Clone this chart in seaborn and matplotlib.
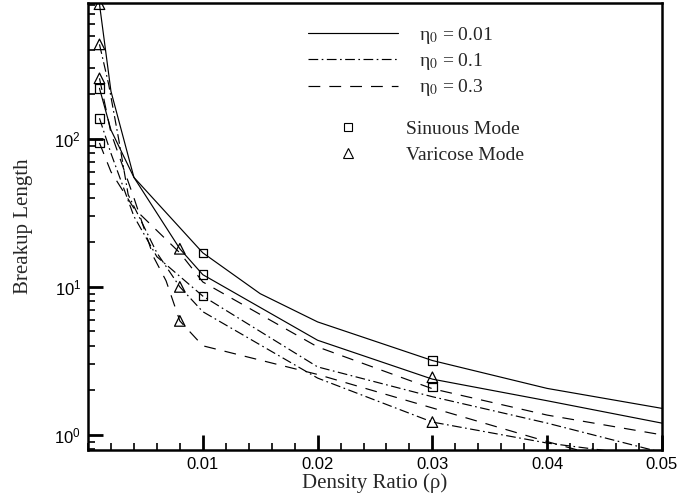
import matplotlib
matplotlib.use("Agg")
import matplotlib.pyplot as plt
import seaborn as sns
import numpy as np
from matplotlib.lines import Line2D
from matplotlib.font_manager import FontProperties
from matplotlib.ticker import FixedLocator, MultipleLocator, NullFormatter, LogLocator

# ---------------- data ----------------
# eta0 = 0.01 (solid)
s1_x = [0.001, 0.002, 0.004, 0.01, 0.015, 0.02, 0.03, 0.04, 0.05]
s1_y = [220, 115, 55, 17.0, 9.0, 5.8, 3.18, 2.06, 1.51]
v1_x = [0.001, 0.002, 0.004, 0.008, 0.01, 0.02, 0.03, 0.04, 0.05]
v1_y = [815, 210, 55, 18.1, 12.1, 4.36, 2.38, 1.70, 1.20]
# eta0 = 0.1 (dash-dot)
s2_x = [0.001, 0.002, 0.004, 0.006, 0.01, 0.02, 0.03, 0.04, 0.05]
s2_y = [138, 80, 30, 16, 8.67, 2.88, 1.81, 1.20, 0.76]
v2_x = [0.001, 0.0018, 0.0027, 0.0035, 0.006, 0.008, 0.01, 0.02, 0.03, 0.04, 0.05]
v2_y = [436, 234, 97, 42, 17, 10.0, 6.8, 2.42, 1.22, 0.88, 0.70]
# eta0 = 0.3 (dashed)
s3_x = [0.001, 0.002, 0.004, 0.008, 0.01, 0.02, 0.03, 0.04, 0.05]
s3_y = [94, 60, 34, 17, 10.8, 3.93, 2.05, 1.36, 1.0]
v3_x = [0.001, 0.002, 0.004, 0.0057, 0.0068, 0.008, 0.01, 0.02, 0.03, 0.04, 0.05]
v3_y = [257, 110, 40, 16, 11, 5.89, 4.0, 2.56, 1.52, 0.90, 0.55]

# mode markers
sin_x = [0.001, 0.001, 0.001, 0.01, 0.01, 0.01, 0.03, 0.03]
sin_y = [220, 138, 94, 17.0, 12.1, 8.67, 3.18, 2.10]
var_x = [0.001, 0.001, 0.001, 0.008, 0.008, 0.008, 0.03, 0.03]
var_y = [815, 436, 257, 18.1, 10.0, 5.89, 2.45, 1.22]

eta_labels = ["η$_0$ = 0.01", "η$_0$ = 0.1", "η$_0$ = 0.3"]
mode_labels = ["Sinuous Mode", "Varicose Mode"]
x_ticks = [0.01, 0.02, 0.03, 0.04, 0.05]
x_ticklabels = ["0.01", "0.02", "0.03", "0.04", "0.05"]
y_ticks = [1, 10, 100]
y_ticklabels = [r"$10^0$", r"$10^1$", r"$10^2$"]

# ---------------- style ----------------
sns.set_theme(style="white")
plt.rcParams["font.family"] = ["Liberation Sans", "DejaVu Sans"]
plt.rcParams["mathtext.fontset"] = "custom"
plt.rcParams["mathtext.rm"] = "Liberation Sans"
plt.rcParams["mathtext.it"] = "Liberation Sans:italic"
plt.rcParams["lines.scale_dashes"] = False

fig = plt.figure(figsize=(6.8, 4.97), dpi=100)
ax = fig.add_axes([88 / 680, 1 - 450 / 497, (662 - 88) / 680, (450 - 3) / 497])

solid = "-"
dashdot = (0, (7, 2.5, 1.2, 2.5))
dashed = (0, (8.5, 6.5))
lw = 0.85

series = [
    (s1_x, s1_y, solid), (v1_x, v1_y, solid),
    (s2_x, s2_y, dashdot), (v2_x, v2_y, dashdot),
    (s3_x, s3_y, dashed), (v3_x, v3_y, dashed),
]
for xs, ys, ls in series:
    sns.lineplot(x=xs, y=ys, ax=ax, color="black", linewidth=lw,
                 linestyle=ls, sort=False, estimator=None)

sns.scatterplot(x=sin_x, y=sin_y, ax=ax, marker="s", s=38,
                facecolor="none", edgecolor="black", linewidth=0.9, zorder=5)
sns.scatterplot(x=var_x, y=var_y, ax=ax, marker="^", s=58,
                facecolor="none", edgecolor="black", linewidth=0.9, zorder=5)

ax.set_yscale("log")
ax.set_xlim(0, 0.05)
ax.set_ylim(0.79, 830)

ax.xaxis.set_major_locator(FixedLocator(x_ticks))
ax.set_xticklabels(x_ticklabels)
ax.xaxis.set_minor_locator(MultipleLocator(0.002))
ax.yaxis.set_major_locator(FixedLocator(y_ticks))
ax.set_yticklabels(y_ticklabels)
ax.yaxis.set_minor_locator(LogLocator(base=10, subs=np.arange(2, 10)))
ax.yaxis.set_minor_formatter(NullFormatter())

ax.tick_params(which="major", direction="in", length=11, width=2.0,
               labelsize=12, color="black", labelcolor="black", pad=5,
               top=False, right=False, bottom=True, left=True)
ax.tick_params(which="minor", direction="in", length=5, width=1.2,
               color="black", top=False, right=False, bottom=True, left=True)

for sp in ax.spines.values():
    sp.set_linewidth(1.8)
    sp.set_color("black")

ax.set_xlabel("Density Ratio (ρ)", family="Liberation Serif", fontsize=15, labelpad=1)
ax.set_ylabel("Breakup Length", family="Liberation Serif", fontsize=15, labelpad=15)

# legends
serif_prop = FontProperties(family=["Liberation Serif", "DejaVu Serif"], size=14,
                            math_fontfamily="stix")
line_handles = [Line2D([], [], color="black", lw=lw, linestyle=solid),
                Line2D([], [], color="black", lw=lw, linestyle=dashdot),
                Line2D([], [], color="black", lw=lw, linestyle=dashed)]
leg1 = ax.legend(line_handles, eta_labels, loc="upper left",
                 bbox_to_anchor=(0.353, 0.991), frameon=False, prop=serif_prop,
                 handlelength=4.6, labelspacing=0.28, handletextpad=1.08)
ax.add_artist(leg1)
mark_handles = [Line2D([], [], color="black", marker="s", ls="none", ms=6,
                       mfc="none", mew=0.8),
                Line2D([], [], color="black", marker="^", ls="none", ms=7,
                       mfc="none", mew=0.8)]
leg2 = ax.legend(mark_handles, mode_labels, loc="upper left",
                 bbox_to_anchor=(0.389, 0.776), frameon=False, prop=serif_prop,
                 handlelength=2.0, labelspacing=0.42, handletextpad=1.98)

fig.savefig("out.png", dpi=100)
